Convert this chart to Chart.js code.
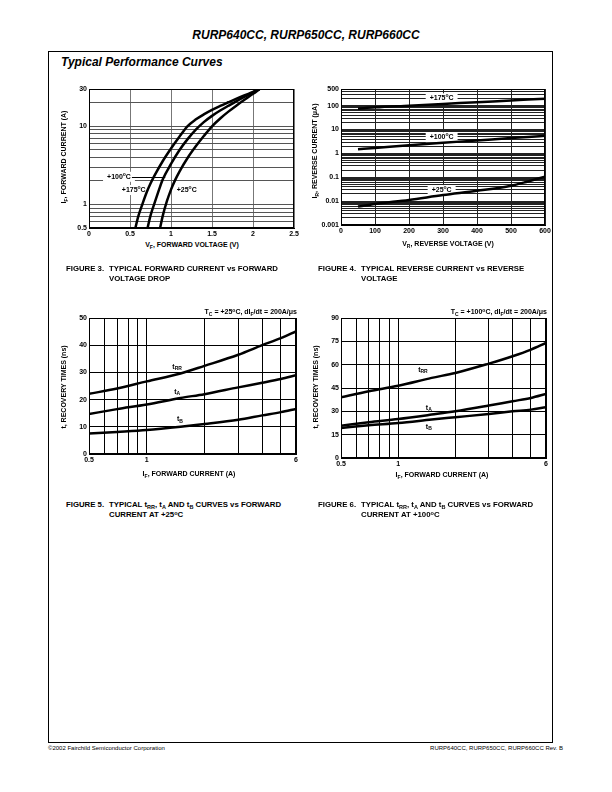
<!DOCTYPE html>
<html>
<head>
<meta charset="utf-8">
<script src="https://cdn.jsdelivr.net/npm/chart.js@4.4.1/dist/chart.umd.min.js"></script>
<style>
  body { margin: 0; width: 612px; height: 792px; position: relative; background: #fff; color: #000;
         font-family: "Liberation Sans", Arial, sans-serif; overflow: hidden; }
  .t { position: absolute; white-space: nowrap; line-height: 10px; }
  .c { transform: translate(-50%, -50%); }
  .yt { transform: translate(-50%, -50%) rotate(-90deg); }
  .axt { font-size: 7px; font-weight: bold; }
  .sb { font-size: 5px; position: relative; top: 1.5px; }
  .sp { font-size: 5px; position: relative; top: -2.5px; }
  canvas { position: absolute; }
  .cap { position: absolute; display: flex; font: bold 7.8px/10px "Liberation Sans", Arial, sans-serif; white-space: nowrap; }
  .cap .n { width: 43px; }
  .cap .sb, .cap .sp { font-size: 5.5px; }
</style>
</head>
<body>
<div class="t" style="left:0;width:612px;top:28px;line-height:14px;text-align:center;font:bold italic 12px/14px 'Liberation Sans',Arial,sans-serif">RURP640CC, RURP650CC, RURP660CC</div>
<div style="position:absolute;left:48px;top:51px;width:505px;height:692px;border:1px solid #000;box-sizing:border-box"></div>
<div class="t" style="left:61px;top:55px;font:bold italic 12px/14px 'Liberation Sans',Arial,sans-serif">Typical Performance Curves</div>

<canvas id="fig3" width="255" height="160" style="left:50px;top:80px"></canvas>
<canvas id="fig4" width="255" height="160" style="left:302px;top:80px"></canvas>
<canvas id="fig5" width="255" height="165" style="left:50px;top:305px"></canvas>
<canvas id="fig6" width="255" height="165" style="left:302px;top:305px"></canvas>

<!-- axis titles -->
<div class="t c axt" style="left:192px;top:245px">V<span class="sb">F</span>, FORWARD VOLTAGE (V)</div>
<div class="t yt axt" style="left:64px;top:157px">I<span class="sb">F</span>, FORWARD CURRENT (A)</div>
<div class="t c axt" style="left:448px;top:244px">V<span class="sb">R</span>, REVERSE VOLTAGE (V)</div>
<div class="t yt axt" style="left:315px;top:151px">I<span class="sb">R</span>, REVERSE CURRENT (&mu;A)</div>
<div class="t c axt" style="left:189px;top:474px">I<span class="sb">F</span>, FORWARD CURRENT (A)</div>
<div class="t yt axt" style="left:64px;top:387px">t, RECOVERY TIMES (ns)</div>
<div class="t c axt" style="left:442px;top:475px">I<span class="sb">F</span>, FORWARD CURRENT (A)</div>
<div class="t yt axt" style="left:316px;top:387px">t, RECOVERY TIMES (ns)</div>

<!-- test conditions -->
<div class="t axt" style="right:315px;top:307px">T<span class="sb">C</span> = +25<span class="sp">o</span>C, dI<span class="sb">F</span>/dt = 200A/&mu;s</div>
<div class="t axt" style="right:65px;top:307px">T<span class="sb">C</span> = +100<span class="sp">o</span>C, dI<span class="sb">F</span>/dt = 200A/&mu;s</div>

<!-- captions -->
<div class="cap" style="left:66px;top:264px"><span class="n">FIGURE 3.</span><span>TYPICAL FORWARD CURRENT vs FORWARD<br>VOLTAGE DROP</span></div>
<div class="cap" style="left:318px;top:264px"><span class="n">FIGURE 4.</span><span>TYPICAL REVERSE CURRENT vs REVERSE<br>VOLTAGE</span></div>
<div class="cap" style="left:66px;top:500px"><span class="n">FIGURE 5.</span><span>TYPICAL t<span class="sb">RR</span>, t<span class="sb">A</span> AND t<span class="sb">B</span> CURVES vs FORWARD<br>CURRENT AT +25<span class="sp">o</span>C</span></div>
<div class="cap" style="left:318px;top:500px"><span class="n">FIGURE 6.</span><span>TYPICAL t<span class="sb">RR</span>, t<span class="sb">A</span> AND t<span class="sb">B</span> CURVES vs FORWARD<br>CURRENT AT +100<span class="sp">o</span>C</span></div>

<!-- footer -->
<div class="t" style="left:48px;top:743px;font-size:6px">&copy;2002 Fairchild Semiconductor Corporation</div>
<div class="t" style="right:49px;top:743px;font-size:6px">RURP640CC, RURP650CC, RURP660CC Rev. B</div>

<script>
// --- Figure 3: forward voltage (V) vs forward current (A) ---
const fig3Volts175 = [0.566, 0.6, 0.65, 0.7, 0.75, 0.8, 0.9, 1.0, 1.1, 1.2, 1.3, 1.4, 1.5, 1.6, 1.7, 1.8, 1.9, 2.0, 2.08];
const fig3Amps175 = [0.5, 0.7, 1.0, 1.4, 1.85, 2.35, 3.6, 5.2, 7.3, 10, 12.2, 14.2, 16.2, 18.2, 20.3, 22.6, 25, 27.5, 30];
const fig3Volts100 = [0.714, 0.75, 0.8, 0.85, 0.9, 1.0, 1.1, 1.2, 1.3, 1.4, 1.5, 1.6, 1.7, 1.8, 1.9, 2.0, 2.08];
const fig3Amps100 = [0.5, 0.72, 1.05, 1.5, 2.1, 3.3, 4.9, 6.8, 9.0, 11.3, 13.6, 15.9, 18.3, 21.0, 23.9, 27, 30];
const fig3Volts25 = [0.867, 0.9, 0.95, 1.0, 1.05, 1.1, 1.2, 1.3, 1.4, 1.5, 1.6, 1.7, 1.8, 1.9, 2.0, 2.08];
const fig3Amps25 = [0.5, 0.72, 1.1, 1.55, 2.05, 2.6, 3.9, 5.5, 7.5, 10, 12.6, 15.4, 18.5, 22, 26, 30];
const fig3VoltTicks = [0, 0.5, 1, 1.5, 2, 2.5];
const fig3AmpGrid = [0.5, 0.6, 0.7, 0.8, 0.9, 1, 2, 3, 4, 5, 6, 7, 8, 9, 10, 20, 30];
const fig3AmpLabels = [0.5, 1, 10, 30];

// --- Figure 4: reverse voltage (V) vs reverse current (uA) ---
const fig4Volts = [50, 100, 200, 300, 400, 500, 550, 600];
const fig4Ir175 = [75, 85, 100, 118, 140, 165, 180, 195];
const fig4Ir100 = [1.5, 1.7, 2.2, 2.8, 3.5, 4.4, 4.9, 5.5];
const fig4Ir25 = [0.0059, 0.0076, 0.0112, 0.018, 0.027, 0.044, 0.067, 0.105];
const fig4VoltTicks = [0, 100, 200, 300, 400, 500, 600];
const fig4Decades = [0.001, 0.01, 0.1, 1, 10, 100];
const fig4CurrentLabels = [0.001, 0.01, 0.1, 1, 10, 100, 500];

// --- Figure 5 / 6: forward current (A) vs recovery times (ns) ---
const recAmps = [0.5, 0.7, 1, 1.5, 2, 3, 4, 5, 6];
const fig5Trr = [22.1, 24.1, 26.7, 29.6, 32.4, 36.5, 40, 42.6, 45.1];
const fig5Ta = [14.7, 16.5, 18.2, 20.6, 22, 24.5, 26.2, 27.6, 29];
const fig5Tb = [7.5, 8.1, 8.8, 10, 11, 12.6, 14.2, 15.4, 16.6];
const fig6Trr = [39, 42.9, 46.5, 51.5, 54.7, 60.7, 65.4, 69.7, 74];
const fig6Ta = [20.8, 23, 25.1, 27.9, 30, 33.7, 36.5, 38.6, 41.2];
const fig6Tb = [19.3, 21, 22.5, 24.7, 26.2, 28.3, 30, 31.1, 32.6];
const recAmpGrid = [0.5, 0.6, 0.7, 0.8, 0.9, 1, 2, 3, 4, 5, 6];
const recAmpLabels = [0.5, 1, 6];
const fig5TimeTicks = [0, 10, 20, 30, 40, 50];
const fig6TimeTicks = [0, 15, 30, 45, 60, 75, 90];

const FONT = 'Liberation Sans';
const tickFont = { family: FONT, size: 7, weight: 'bold' };
Chart.defaults.font.family = FONT;

const pts = (xs, ys) => xs.map((x, i) => ({ x: x, y: ys[i] }));
const deg = t => [[t, ''], ['o', 'sup'], ['C', '']];

function axis(type, min, max, grid, labels, color, fit) {
    return {
        type: type, min: min, max: max,
        afterBuildTicks: s => { s.ticks = grid.map(v => ({ value: v })); },
        afterFit: s => { if (s.isHorizontal()) s.height = fit; else s.width = fit; },
        ticks: {
            autoSkip: false, maxRotation: 0, padding: 2, color: '#000', font: tickFont,
            callback: v => labels.some(l => Math.abs(l - v) < 1e-9) ? String(v) : ''
        },
        grid: { color: color, lineWidth: 1, drawTicks: false },
        border: { color: '#000', width: 1 }
    };
}

function curve(data) {
    return { data: data, borderColor: '#000', borderWidth: 2.5, pointRadius: 0,
             showLine: true, cubicInterpolationMode: 'monotone', fill: false };
}

const framePlugin = {
    id: 'frame',
    beforeDatasetsDraw(chart) {
        const { ctx, chartArea: a } = chart;
        ctx.save();
        ctx.strokeStyle = '#000';
        ctx.lineWidth = 1;
        ctx.strokeRect(Math.round(a.left) + 0.5, Math.round(a.top) + 0.5,
                       Math.round(a.right - a.left) - 1, Math.round(a.bottom - a.top) - 1);
        ctx.restore();
    }
};

// text with sub/superscript pieces, drawn at data coordinates
function richWidth(ctx, parts) {
    let w = 0;
    parts.forEach(p => {
        ctx.font = 'bold ' + (p[1] ? 5 : 7) + 'px "' + FONT + '"';
        w += ctx.measureText(p[0]).width;
    });
    return w;
}

function labelPlugin(items) {
    const place = (chart, it) => {
        const ctx = chart.ctx;
        const w = richWidth(ctx, it.parts);
        const px = chart.scales.x.getPixelForValue(it.x);
        const py = chart.scales.y.getPixelForValue(it.y);
        return { x: it.align === 'center' ? px - w / 2 : px, y: py, w: w };
    };
    return {
        id: 'curveLabels',
        beforeDatasetsDraw(chart) {
            const ctx = chart.ctx;
            ctx.save();
            items.forEach(it => {
                const p = place(chart, it);
                if (it.box) {
                    ctx.fillStyle = '#fff';
                    ctx.fillRect(p.x - 4, p.y - 5, p.w + 8, 10);
                }
                if (it.to) {
                    ctx.strokeStyle = '#000';
                    ctx.lineWidth = 1;
                    ctx.beginPath();
                    ctx.moveTo(p.x + p.w + 1, Math.round(p.y) + 0.5);
                    ctx.lineTo(chart.scales.x.getPixelForValue(it.to.x), Math.round(chart.scales.y.getPixelForValue(it.to.y)) + 0.5);
                    ctx.stroke();
                }
            });
            ctx.restore();
        },
        afterDatasetsDraw(chart) {
            const ctx = chart.ctx;
            ctx.save();
            ctx.textAlign = 'left';
            ctx.textBaseline = 'middle';
            ctx.fillStyle = '#000';
            items.forEach(it => {
                const p = place(chart, it);
                let x = p.x;
                it.parts.forEach(part => {
                    ctx.font = 'bold ' + (part[1] ? 5 : 7) + 'px "' + FONT + '"';
                    const dy = part[1] === 'sup' ? -2.5 : part[1] === 'sub' ? 2 : 0;
                    ctx.fillText(part[0], x, p.y + dy);
                    x += ctx.measureText(part[0]).width;
                });
            });
            ctx.restore();
        }
    };
}

function makeChart(id, datasets, xScale, yScale, padding, items) {
    return new Chart(document.getElementById(id), {
        type: 'scatter',
        data: { datasets: datasets },
        options: {
            responsive: false, animation: false, devicePixelRatio: 1,
            layout: { padding: padding },
            plugins: { legend: { display: false }, tooltip: { enabled: false } },
            scales: { x: xScale, y: yScale }
        },
        plugins: [framePlugin, labelPlugin(items)]
    });
}

// Figure 3
makeChart('fig3',
    [curve(pts(fig3Volts175, fig3Amps175)), curve(pts(fig3Volts100, fig3Amps100)), curve(pts(fig3Volts25, fig3Amps25))],
    axis('linear', 0, 2.5, fig3VoltTicks, fig3VoltTicks, '#777', 12),
    axis('logarithmic', 0.5, 30, fig3AmpGrid, fig3AmpLabels, '#555', 39),
    { left: 0, right: 11, top: 9, bottom: 0 },
    [
        { x: 0.22, y: 2.26, align: 'left', parts: deg('+100'), box: true, to: { x: 0.93, y: 2.26 } },
        { x: 0.40, y: 1.53, align: 'left', parts: deg('+175'), box: true },
        { x: 1.07, y: 1.53, align: 'left', parts: deg('+25'), box: true }
    ]);

// Figure 4
const fig4Grid = [];
fig4Decades.forEach(d => [1, 2, 3, 4, 5, 6, 7, 8, 9].forEach(m => {
    const v = Number((d * m).toPrecision(3));
    if (v <= 500) fig4Grid.push(v);
}));
makeChart('fig4',
    [curve(pts(fig4Volts, fig4Ir175)), curve(pts(fig4Volts, fig4Ir100)), curve(pts(fig4Volts, fig4Ir25))],
    axis('linear', 0, 600, fig4VoltTicks, fig4VoltTicks, '#222', 15),
    axis('logarithmic', 0.001, 500, fig4Grid, fig4CurrentLabels, '#222', 39),
    { left: 0, right: 12, top: 9, bottom: 0 },
    [
        { x: 296, y: 204, align: 'center', parts: deg('+175'), box: true },
        { x: 296, y: 4.73, align: 'center', parts: deg('+100'), box: true },
        { x: 296, y: 0.029, align: 'center', parts: deg('+25'), box: true }
    ]);

// Figure 5
makeChart('fig5',
    [curve(pts(recAmps, fig5Trr)), curve(pts(recAmps, fig5Ta)), curve(pts(recAmps, fig5Tb))],
    axis('logarithmic', 0.5, 6, recAmpGrid, recAmpLabels, '#000', 16),
    axis('linear', 0, 50, fig5TimeTicks, fig5TimeTicks, '#000', 39),
    { left: 0, right: 9, top: 13, bottom: 0 },
    [
        { x: 1.44, y: 32, align: 'center', parts: [['t', ''], ['RR', 'sub']] },
        { x: 1.44, y: 22.8, align: 'center', parts: [['t', ''], ['A', 'sub']] },
        { x: 1.49, y: 12.7, align: 'center', parts: [['t', ''], ['B', 'sub']] }
    ]);

// Figure 6
makeChart('fig6',
    [curve(pts(recAmps, fig6Trr)), curve(pts(recAmps, fig6Ta)), curve(pts(recAmps, fig6Tb))],
    axis('logarithmic', 0.5, 6, recAmpGrid, recAmpLabels, '#000', 12),
    axis('linear', 0, 90, fig6TimeTicks, fig6TimeTicks, '#000', 39),
    { left: 0, right: 11, top: 13, bottom: 0 },
    [
        { x: 1.35, y: 56.5, align: 'center', parts: [['t', ''], ['RR', 'sub']] },
        { x: 1.45, y: 32.4, align: 'center', parts: [['t', ''], ['A', 'sub']] },
        { x: 1.45, y: 19.9, align: 'center', parts: [['t', ''], ['B', 'sub']] }
    ]);
</script>
</body>
</html>
